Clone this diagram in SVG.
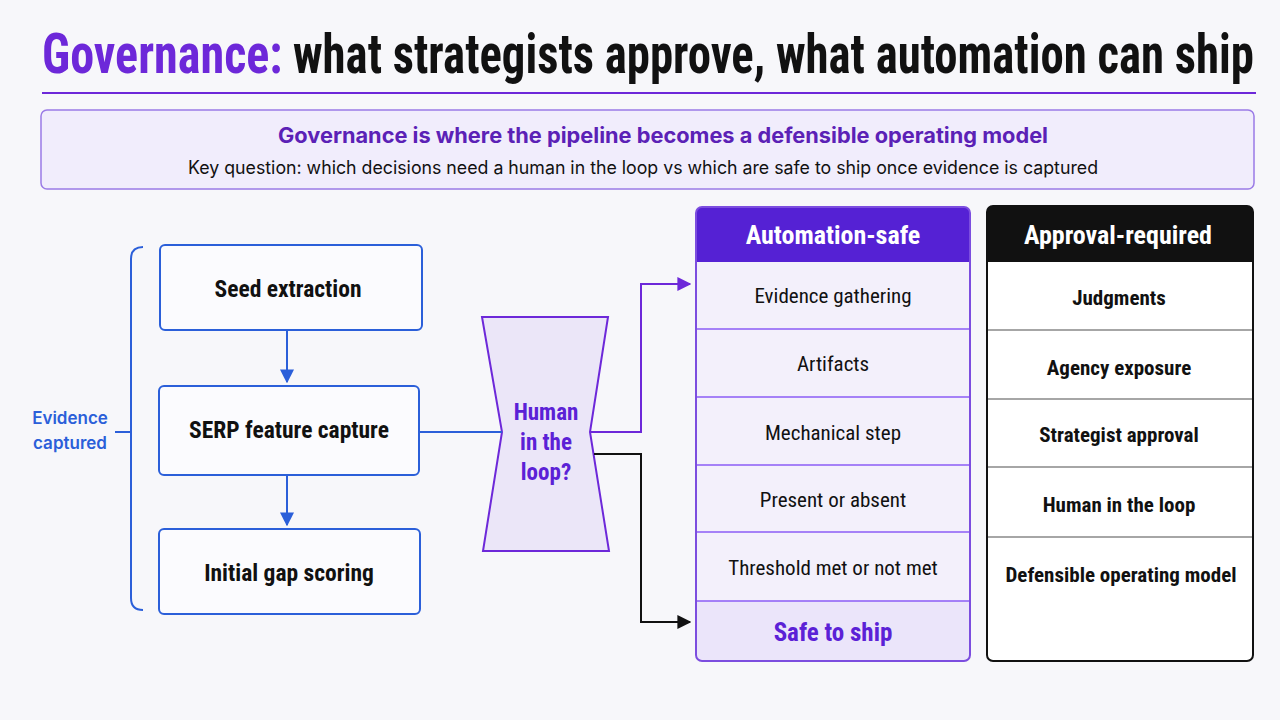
<svg xmlns="http://www.w3.org/2000/svg" width="1280" height="720" viewBox="0 0 1280 720">
<defs>
<style>
text{font-family:"Liberation Sans Narrow","Roboto Condensed","Liberation Sans",Arial,sans-serif;}
.b{font-weight:bold;}
.w{font-family:Inter,Roboto,"Liberation Sans",Arial,sans-serif;}
.node{fill:#fbfbfe;stroke:#2b5fd9;stroke-width:2;}
.lbl{font-size:23.5px;fill:#111;text-anchor:middle;font-weight:bold;}
.arow{font-size:21px;fill:#111;text-anchor:middle;}
.brow{font-size:21px;fill:#111;text-anchor:middle;font-weight:bold;}
.hdr{font-size:26px;fill:#fff;text-anchor:middle;font-weight:bold;}
</style>
<marker id="ab" viewBox="0 0 10 10" refX="9" refY="5" markerWidth="7" markerHeight="7" orient="auto"><path d="M0,0L10,5L0,10z" fill="#2b5fd9"/></marker>
<marker id="ap" viewBox="0 0 10 10" refX="9" refY="5" markerWidth="7" markerHeight="7" orient="auto"><path d="M0,0L10,5L0,10z" fill="#6d28d9"/></marker>
<marker id="ak" viewBox="0 0 10 10" refX="9" refY="5" markerWidth="7" markerHeight="7" orient="auto"><path d="M0,0L10,5L0,10z" fill="#111"/></marker>
</defs>
<rect width="1280" height="720" fill="#f7f7fa"/>
<g id="title">
<text transform="translate(42,73) scale(0.86,1)" font-size="56" class="b" fill="#6d28d9">Governance:</text>
<text transform="translate(293,73) scale(0.835,1)" font-size="56" class="b" fill="#111">what strategists approve, what automation can ship</text>
<line x1="42" y1="93" x2="1256" y2="93" stroke="#6d28d9" stroke-width="2"/>
</g>
<g id="callout">
<rect x="41" y="110" width="1213" height="79" rx="6" fill="#f1edfc" stroke="#9b7be6" stroke-width="1.5"/>
<text x="278" y="143" font-size="21" class="b w" fill="#5b21b6" textLength="770" lengthAdjust="spacingAndGlyphs">Governance is where the pipeline becomes a defensible operating model</text>
<text x="188" y="174" font-size="18" class="w" fill="#111" textLength="910" lengthAdjust="spacingAndGlyphs">Key question: which decisions need a human in the loop vs which are safe to ship once evidence is captured</text>
</g>
<g id="bracket">
<path d="M143,247 Q131,247 131,259 L131,598 Q131,610 143,610" fill="none" stroke="#2b5fd9" stroke-width="2"/>
<line x1="115" y1="432" x2="131" y2="432" stroke="#2b5fd9" stroke-width="2"/>
<text x="70" y="424" font-size="17" fill="#2b5fd9" text-anchor="middle" class="w" font-weight="600">Evidence</text>
<text x="70" y="449" font-size="17" fill="#2b5fd9" text-anchor="middle" class="w" font-weight="600">captured</text>
</g>
<g id="seed">
<rect class="node" x="160" y="245" width="262" height="85" rx="5"/>
<text class="lbl" x="288" y="297">Seed extraction</text>
</g>
<g id="serp">
<rect class="node" x="159" y="386" width="260" height="89" rx="5"/>
<text class="lbl" x="289" y="438">SERP feature capture</text>
</g>
<g id="gap">
<rect class="node" x="159" y="529" width="261" height="85" rx="5"/>
<text class="lbl" x="289" y="581">Initial gap scoring</text>
</g>
<g id="hitl">
<path d="M482,317 L608,317 L590,432 L609,551 L483,551 L502,432 Z" fill="#ebe6f8" stroke="#6d28d9" stroke-width="2"/>
<text x="546" y="420" font-size="23" class="b" fill="#5b21d6" text-anchor="middle">Human</text>
<text x="546" y="450" font-size="23" class="b" fill="#5b21d6" text-anchor="middle">in the</text>
<text x="546" y="480" font-size="23" class="b" fill="#5b21d6" text-anchor="middle">loop?</text>
</g>
<g id="connectors" fill="none" stroke-width="2">
<line x1="287" y1="330" x2="287" y2="382" stroke="#2b5fd9" marker-end="url(#ab)"/>
<line x1="287" y1="475" x2="287" y2="525" stroke="#2b5fd9" marker-end="url(#ab)"/>
<line x1="419" y1="432" x2="502" y2="432" stroke="#2b5fd9"/>
<path d="M590,432 L641,432 L641,284 L690,284" stroke="#6d28d9" marker-end="url(#ap)"/>
<path d="M594,454 L641,454 L641,622 L690,622" stroke="#111" marker-end="url(#ak)"/>
</g>
<g id="automation-safe">
<rect x="696" y="207" width="274" height="454" rx="6" fill="#f3f0fb"/>
<rect x="696" y="601" width="274" height="60" rx="6" fill="#ebe5fa"/>
<rect x="696" y="601" width="274" height="10" fill="#ebe5fa"/>
<path d="M696,262 L696,213 Q696,207 702,207 L964,207 Q970,207 970,213 L970,262 Z" fill="#5521d4"/>
<g stroke="#8b5cf6" stroke-width="1.5">
<line x1="696" y1="329" x2="970" y2="329"/>
<line x1="696" y1="397" x2="970" y2="397"/>
<line x1="696" y1="465" x2="970" y2="465"/>
<line x1="696" y1="532" x2="970" y2="532"/>
<line x1="696" y1="601" x2="970" y2="601"/>
</g>
<rect x="696" y="207" width="274" height="454" rx="6" fill="none" stroke="#7c4ddf" stroke-width="2"/>
<text class="hdr" x="833" y="244">Automation-safe</text>
<text class="arow" x="833" y="303">Evidence gathering</text>
<text class="arow" x="833" y="371">Artifacts</text>
<text class="arow" x="833" y="440">Mechanical step</text>
<text class="arow" x="833" y="507">Present or absent</text>
<text class="arow" x="833" y="575">Threshold met or not met</text>
<text x="833" y="641" font-size="25" class="b" fill="#5b21d6" text-anchor="middle">Safe to ship</text>
</g>
<g id="approval-required">
<rect x="987" y="206" width="266" height="455" rx="6" fill="#ffffff"/>
<path d="M987,262 L987,212 Q987,206 993,206 L1247,206 Q1253,206 1253,212 L1253,262 Z" fill="#111"/>
<g stroke="#888" stroke-width="1.5">
<line x1="987" y1="330" x2="1253" y2="330"/>
<line x1="987" y1="399" x2="1253" y2="399"/>
<line x1="987" y1="467" x2="1253" y2="467"/>
<line x1="987" y1="537" x2="1253" y2="537"/>
</g>
<rect x="987" y="206" width="266" height="455" rx="6" fill="none" stroke="#111" stroke-width="2"/>
<text class="hdr" x="1118" y="244">Approval-required</text>
<text class="brow" x="1119" y="305">Judgments</text>
<text class="brow" x="1119" y="375">Agency exposure</text>
<text class="brow" x="1119" y="442">Strategist approval</text>
<text class="brow" x="1119" y="512">Human in the loop</text>
<text class="brow" x="1121" y="582">Defensible operating model</text>
</g>
</svg>
